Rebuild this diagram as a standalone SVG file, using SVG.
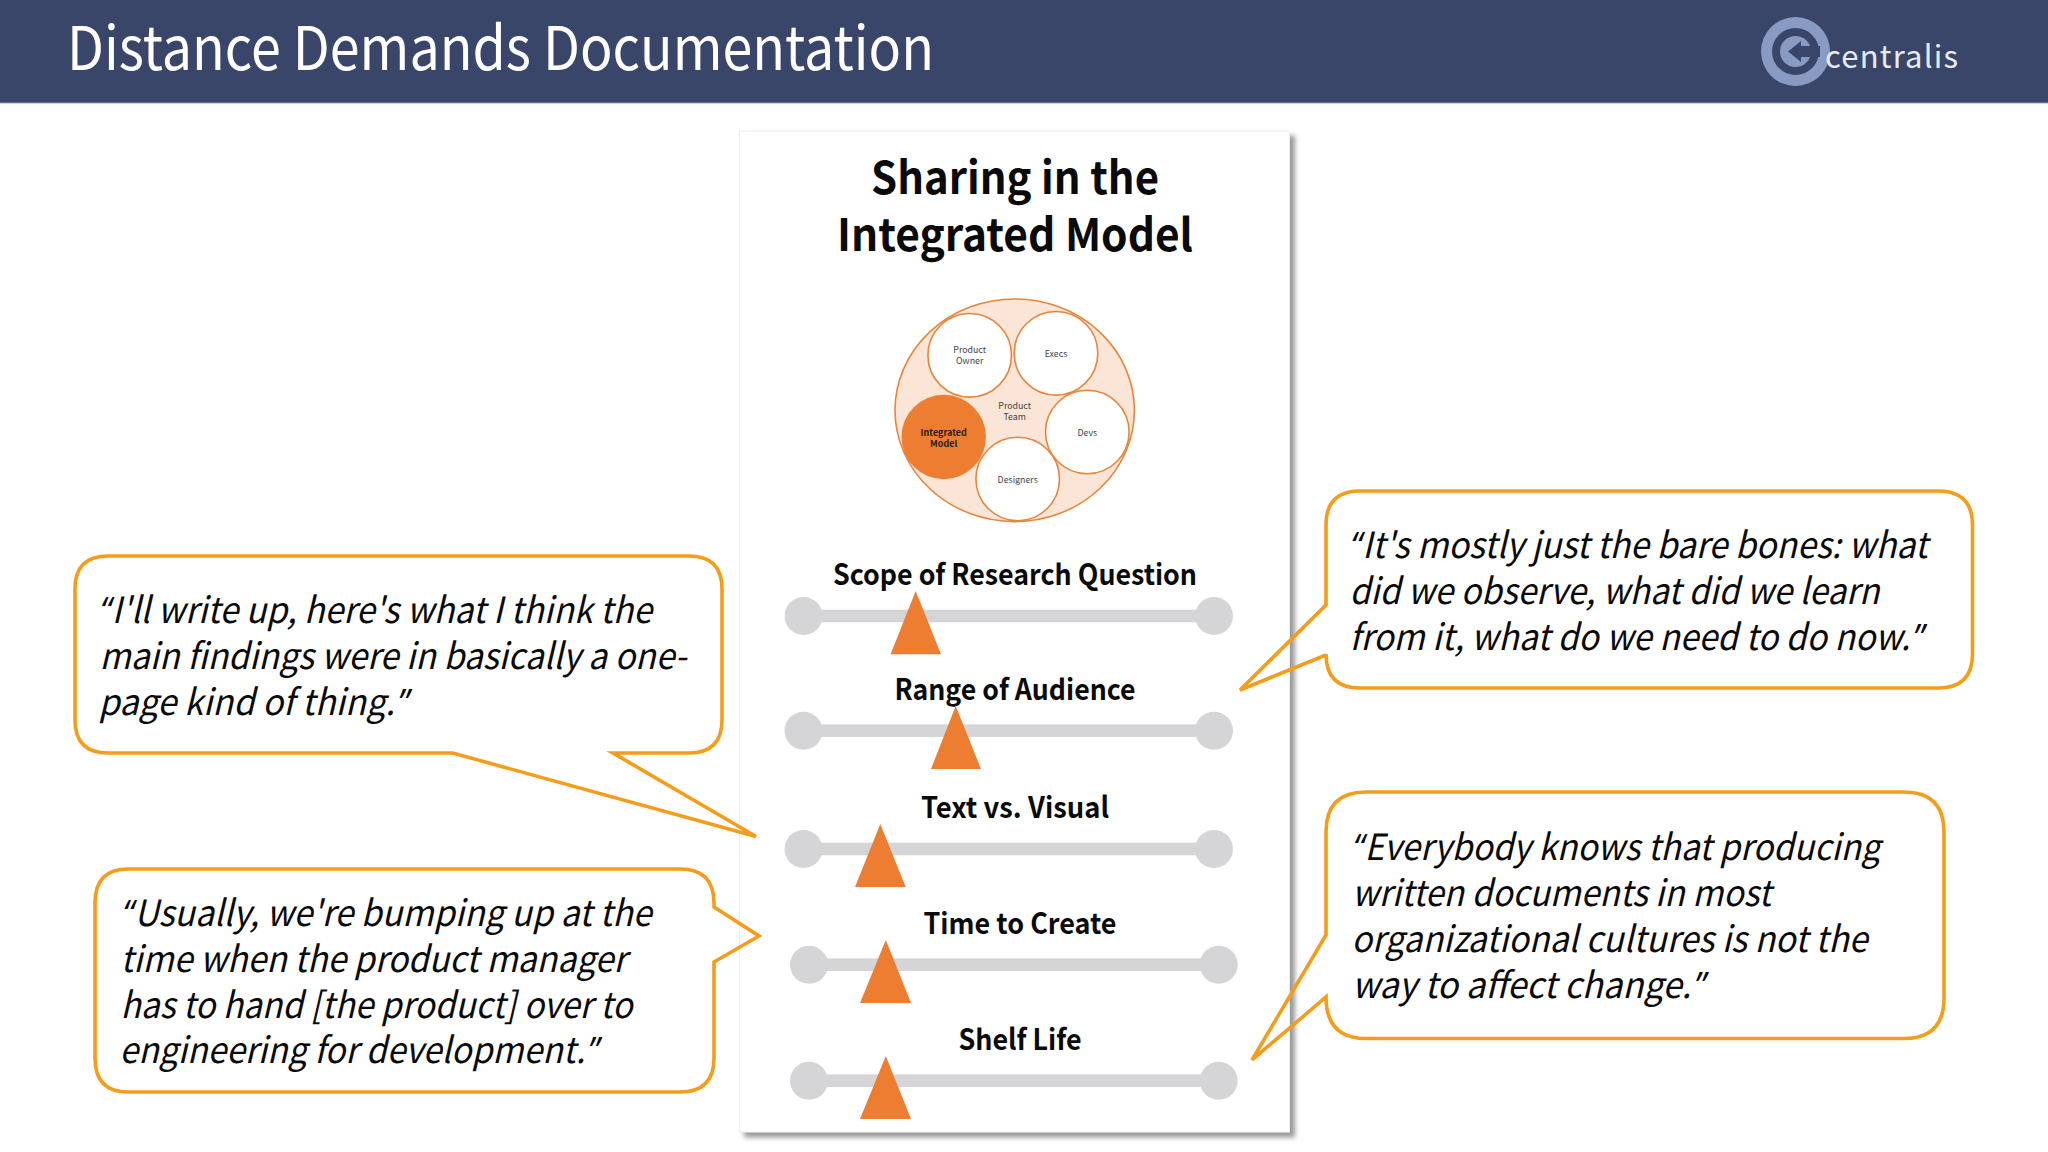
<svg xmlns="http://www.w3.org/2000/svg" width="2048" height="1152" viewBox="0 0 2048 1152">
<style>
text{font-family:"Noto Sans CJK JP","Noto Sans",sans-serif}
.q{font-size:36px;font-style:italic;fill:#0a0a0a}
.p{font-family:"Open Sans","Noto Sans",sans-serif}
.co{fill:none;stroke:#f59d1a;stroke-width:3.6;stroke-linejoin:miter}
.bar{fill:#d5d5d8}
.tri{fill:#ed7d31}
.lab{font-size:29px;font-weight:700;text-anchor:middle;fill:#0a0a0a}
.hd{font-size:45px;font-weight:700;text-anchor:middle;fill:#0a0a0a}
.c{fill:#fff;stroke:#e8853c;stroke-width:1.6}
.s{font-size:8.8px;text-anchor:middle;fill:#444}
.b{font-size:9px;font-weight:700;text-anchor:middle;fill:#2a1a10}
</style>
<defs>
<filter id="sh" x="-5%" y="-5%" width="110%" height="110%"><feDropShadow dx="5" dy="5" stdDeviation="2.5" flood-color="#777" flood-opacity=".75"/></filter>
</defs>
<rect width="2048" height="1152" fill="#fff"/>
<g id="header">
<rect width="2048" height="103" fill="#3a4669"/>
<rect y="102.5" width="2048" height="1" fill="#8fa3cf"/>
<text x="67" y="70" font-size="60" fill="#fff" textLength="867" lengthAdjust="spacingAndGlyphs">Distance Demands Documentation</text>
</g>
<g id="logo">
<circle cx="1795.5" cy="51.5" r="34.5" fill="#8a9bc3"/>
<circle cx="1795.5" cy="51.5" r="23.5" fill="#3a4669"/>
<circle cx="1795.5" cy="51.5" r="15.5" fill="#8a9bc3"/>
<path d="M1788 51.5L1801 41V46H1820V57H1801V62Z" fill="#3a4669"/>
<text x="1825" y="67.5" font-size="31" fill="#e8ecf5" textLength="133" lengthAdjust="spacing">centralis</text>
</g>
<g id="panel">
<rect x="739.5" y="131" width="550" height="1001" fill="#fff" stroke="#eeeeee" filter="url(#sh)"/>
<text class="hd" x="1015" y="194" textLength="288" lengthAdjust="spacingAndGlyphs">Sharing in the</text>
<text class="hd" x="1015" y="251" textLength="356" lengthAdjust="spacingAndGlyphs">Integrated Model</text>
</g>
<g id="team-diagram">
<ellipse cx="1014.7" cy="410.3" rx="119.7" ry="111.3" fill="#fbe5d6" stroke="#e8853c" stroke-width="1.6"/>
<g id="product-owner"><circle class="c" cx="969.7" cy="355.3" r="41.8"/><text class="s" x="969.7" y="353">Product</text><text class="s" x="969.7" y="364.3">Owner</text></g>
<g id="execs"><circle class="c" cx="1056" cy="353.3" r="41.8"/><text class="s" x="1056" y="356.5">Execs</text></g>
<g id="devs"><circle class="c" cx="1087.3" cy="432" r="41.8"/><text class="s" x="1087.3" y="435.5">Devs</text></g>
<g id="designers"><circle class="c" cx="1017.7" cy="479" r="41.8"/><text class="s" x="1017.7" y="482.5">Designers</text></g>
<g id="integrated-model"><circle cx="943.7" cy="437" r="42.2" fill="#ed7d31"/><text class="b" x="943.7" y="435.5">Integrated</text><text class="b" x="943.7" y="446.5">Model</text></g>
<g id="product-team"><text class="s" x="1014.7" y="408.5">Product</text><text class="s" x="1014.7" y="419.5">Team</text></g>
</g>
<g id="slider-scope">
<text class="lab" x="1015" y="584.5" textLength="364" lengthAdjust="spacingAndGlyphs">Scope of Research Question</text>
<rect class="bar" x="803" y="609.7" width="410.5" height="12.6"/><circle class="bar" cx="803.5" cy="616" r="19"/><circle class="bar" cx="1214" cy="616" r="19"/>
<path class="tri" d="M915.7 591L941 654.3H890.6Z"/>
</g>
<g id="slider-audience">
<text class="lab" x="1015" y="699.5" textLength="241" lengthAdjust="spacingAndGlyphs">Range of Audience</text>
<rect class="bar" x="803" y="724.4" width="410.5" height="12.6"/><circle class="bar" cx="803.5" cy="730.7" r="19"/><circle class="bar" cx="1214" cy="730.7" r="19"/>
<path class="tri" d="M955.7 706L981 769H931Z"/>
</g>
<g id="slider-text">
<text class="lab" x="1015" y="817.5" textLength="188" lengthAdjust="spacingAndGlyphs">Text vs. Visual</text>
<rect class="bar" x="803" y="842.7" width="410.5" height="12.6"/><circle class="bar" cx="803.5" cy="849" r="19"/><circle class="bar" cx="1214" cy="849" r="19"/>
<path class="tri" d="M880.3 824L905.7 887H855Z"/>
</g>
<g id="slider-time">
<text class="lab" x="1020" y="933.5" textLength="193" lengthAdjust="spacingAndGlyphs">Time to Create</text>
<rect class="bar" x="809" y="958.4" width="410" height="12.6"/><circle class="bar" cx="809" cy="964.7" r="19"/><circle class="bar" cx="1218.7" cy="964.7" r="19"/>
<path class="tri" d="M885.8 940L911 1003H860Z"/>
</g>
<g id="slider-shelf">
<text class="lab" x="1020" y="1049.5" textLength="123" lengthAdjust="spacingAndGlyphs">Shelf Life</text>
<rect class="bar" x="809" y="1074.4" width="410" height="12.6"/><circle class="bar" cx="809" cy="1080.7" r="19"/><circle class="bar" cx="1218.7" cy="1080.7" r="19"/>
<path class="tri" d="M885.8 1056L911 1119H860Z"/>
</g>
<g id="quote-write-up">
<path class="co" d="M108 556H689Q722 556 722 589V720Q722 753 689 753H613L756 836.5L452.6 753H108Q75 753 75 720V589Q75 556 108 556Z"/>
<text class="q" x="100" y="622.5" textLength="552" lengthAdjust="spacingAndGlyphs"><tspan class="p">“</tspan>I'll write up, here's what I think the</text>
<text class="q" x="99.5" y="668.8" textLength="587" lengthAdjust="spacingAndGlyphs">main findings were in basically a one-</text>
<text class="q" x="98.5" y="714.8" textLength="311" lengthAdjust="spacingAndGlyphs">page kind of thing.<tspan class="p" dx="3">”</tspan></text>
</g>
<g id="quote-bumping">
<path class="co" d="M128 869H680Q714 869 714 903V907L759 936L714 962V1058Q714 1092 680 1092H128Q95 1092 95 1058V903Q95 869 128 869Z"/>
<text class="q" x="122.5" y="925.5" textLength="529" lengthAdjust="spacingAndGlyphs"><tspan class="p">“</tspan>Usually, we're bumping up at the</text>
<text class="q" x="120.5" y="971.5" textLength="506" lengthAdjust="spacingAndGlyphs">time when the product manager</text>
<text class="q" x="120.5" y="1017.5" textLength="512" lengthAdjust="spacingAndGlyphs">has to hand [the product] over to</text>
<text class="q" x="119.5" y="1063" textLength="480" lengthAdjust="spacingAndGlyphs">engineering for development.<tspan class="p" dx="3">”</tspan></text>
</g>
<g id="quote-bare-bones">
<path class="co" d="M1360 491H1938Q1972.5 491 1972.5 525V654Q1972.5 688 1938 688H1360Q1326 688 1326 654V655L1240 690L1326 605V525Q1326 491 1360 491Z"/>
<text class="q" x="1350.5" y="557.5" textLength="577" lengthAdjust="spacingAndGlyphs"><tspan class="p">“</tspan>It's mostly just the bare bones: what</text>
<text class="q" x="1349.5" y="603.8" textLength="530" lengthAdjust="spacingAndGlyphs">did we observe, what did we learn</text>
<text class="q" x="1349.5" y="649.8" textLength="575" lengthAdjust="spacingAndGlyphs">from it, what do we need to do now.<tspan class="p" dx="3">”</tspan></text>
</g>
<g id="quote-producing">
<path class="co" d="M1366 792H1904Q1944 792 1944 832V998Q1944 1038.5 1904 1038.5H1366Q1326 1038.5 1326 997L1252 1060L1326 935V832Q1326 792 1366 792Z"/>
<text class="q" x="1353" y="859.8" textLength="527" lengthAdjust="spacingAndGlyphs"><tspan class="p">“</tspan>Everybody knows that producing</text>
<text class="q" x="1352" y="905.8" textLength="419" lengthAdjust="spacingAndGlyphs">written documents in most</text>
<text class="q" x="1351.5" y="951.5" textLength="516" lengthAdjust="spacingAndGlyphs">organizational cultures is not the</text>
<text class="q" x="1352" y="998" textLength="354" lengthAdjust="spacingAndGlyphs">way to affect change.<tspan class="p" dx="3">”</tspan></text>
</g>
</svg>
